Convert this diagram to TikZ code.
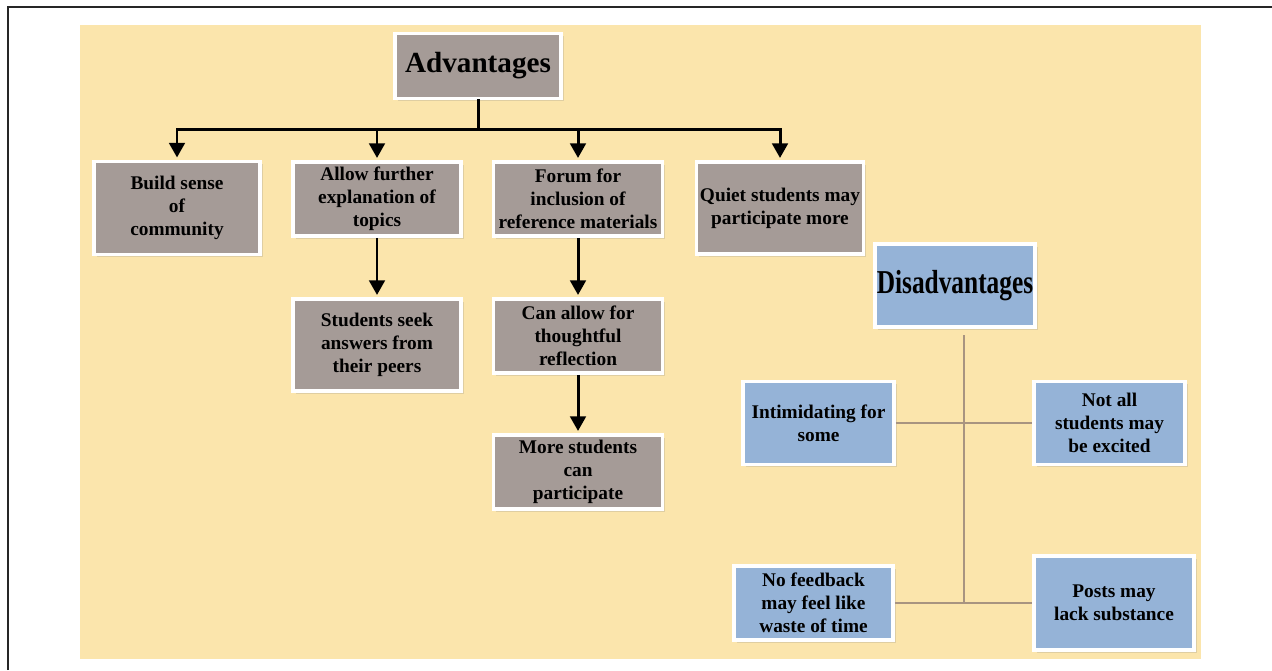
\documentclass[tikz,border=0pt]{standalone}
\usepackage{fontspec}
\setmainfont{Liberation Serif}
\usetikzlibrary{arrows.meta,shadows}
\definecolor{beige}{RGB}{251,229,172}
\definecolor{taupe}{RGB}{165,155,151}
\definecolor{skyblue}{RGB}{149,179,215}
\definecolor{linkbrown}{RGB}{168,148,128}
\tikzset{
  box/.style={draw=white, line width=2.2pt, align=center, inner sep=1pt,
    font=\fontsize{11}{13.2}\selectfont\bfseries,
    drop shadow={opacity=0.22, shadow xshift=0.5mm, shadow yshift=-0.5mm}},
  advbox/.style={box, fill=taupe},
  disbox/.style={box, fill=skyblue},
  arr/.style={line width=1.7pt, -{Triangle[length=2.9mm,width=3.1mm]}, shorten >=1.2pt},
  bar/.style={line width=1.7pt, line cap=rect},
  link/.style={draw=linkbrown, line width=1.2pt}
}

\begin{document}
\begin{tikzpicture}[x=0.2mm,y=-0.2mm]
\useasboundingbox (0,0) rectangle (1272,670);
\fill[beige] (80,25) rectangle (1201,659);
\draw[line width=1.1pt, black!85] (8,670) -- (8,7) -- (1272,7);

\node[advbox, minimum width=33.2mm, minimum height=13mm, font=\fontsize{16.6}{20}\selectfont\bfseries] (adv) at (478,66) {Advantages};
\node[advbox, minimum width=33.2mm, minimum height=18.6mm] (build) at (177,208) {Build sense\\of\\community};
\node[advbox, minimum width=33.6mm, minimum height=14.8mm] (allow) at (377,199) {Allow further\\explanation of\\topics};
\node[advbox, minimum width=33.8mm, minimum height=14.8mm] (forum) at (578,199) {Forum for\\inclusion of\\reference materials};
\node[advbox, minimum width=33.4mm, minimum height=18.4mm] (quiet) at (780,208) {Quiet students may\\participate more};
\node[advbox, minimum width=33.6mm, minimum height=18.4mm] (seek) at (377,345) {Students seek\\answers from\\their peers};
\node[advbox, minimum width=33.8mm, minimum height=14.8mm] (canallow) at (578,336) {Can allow for\\thoughtful\\reflection};
\node[advbox, minimum width=33.8mm, minimum height=14.8mm] (more) at (578,472) {More students\\can\\participate};

\coordinate (bus) at (478,129);
\draw[bar] (adv.south) -- (bus);
\draw[bar] (bus -| build) -- (bus -| quiet);
\foreach \n in {build,allow,forum,quiet}
  \draw[arr] (bus -| \n.north) -- (\n.north);
\draw[arr] (allow) -- (seek);
\draw[arr] (forum) -- (canallow);
\draw[arr] (canallow) -- (more);

\node[disbox, minimum width=32mm, minimum height=16.6mm, font=\fontsize{19}{22}\selectfont\bfseries] (dis) at (955,285.5) {\scalebox{0.76}[1]{Disadvantages}};
\node[disbox, minimum width=30.2mm, minimum height=16.6mm] (intim) at (818.5,423) {Intimidating for\\some};
\node[disbox, minimum width=30.2mm, minimum height=16.6mm] (notall) at (1109.5,423) {Not all\\students may\\be excited};
\node[disbox, minimum width=31.8mm, minimum height=14.8mm] (nofeed) at (813.5,603) {No feedback\\may feel like\\waste of time};
\node[disbox, minimum width=32mm, minimum height=18.8mm] (posts) at (1114,603) {Posts may\\lack substance};

\coordinate (stem) at (964,335);
\coordinate (foot) at (964,603);
\draw[link] (stem) -- (foot);
\draw[link] (intim.east) -- (notall.west);
\draw[link] (nofeed.east) -- (posts.west);
\end{tikzpicture}
\end{document}
